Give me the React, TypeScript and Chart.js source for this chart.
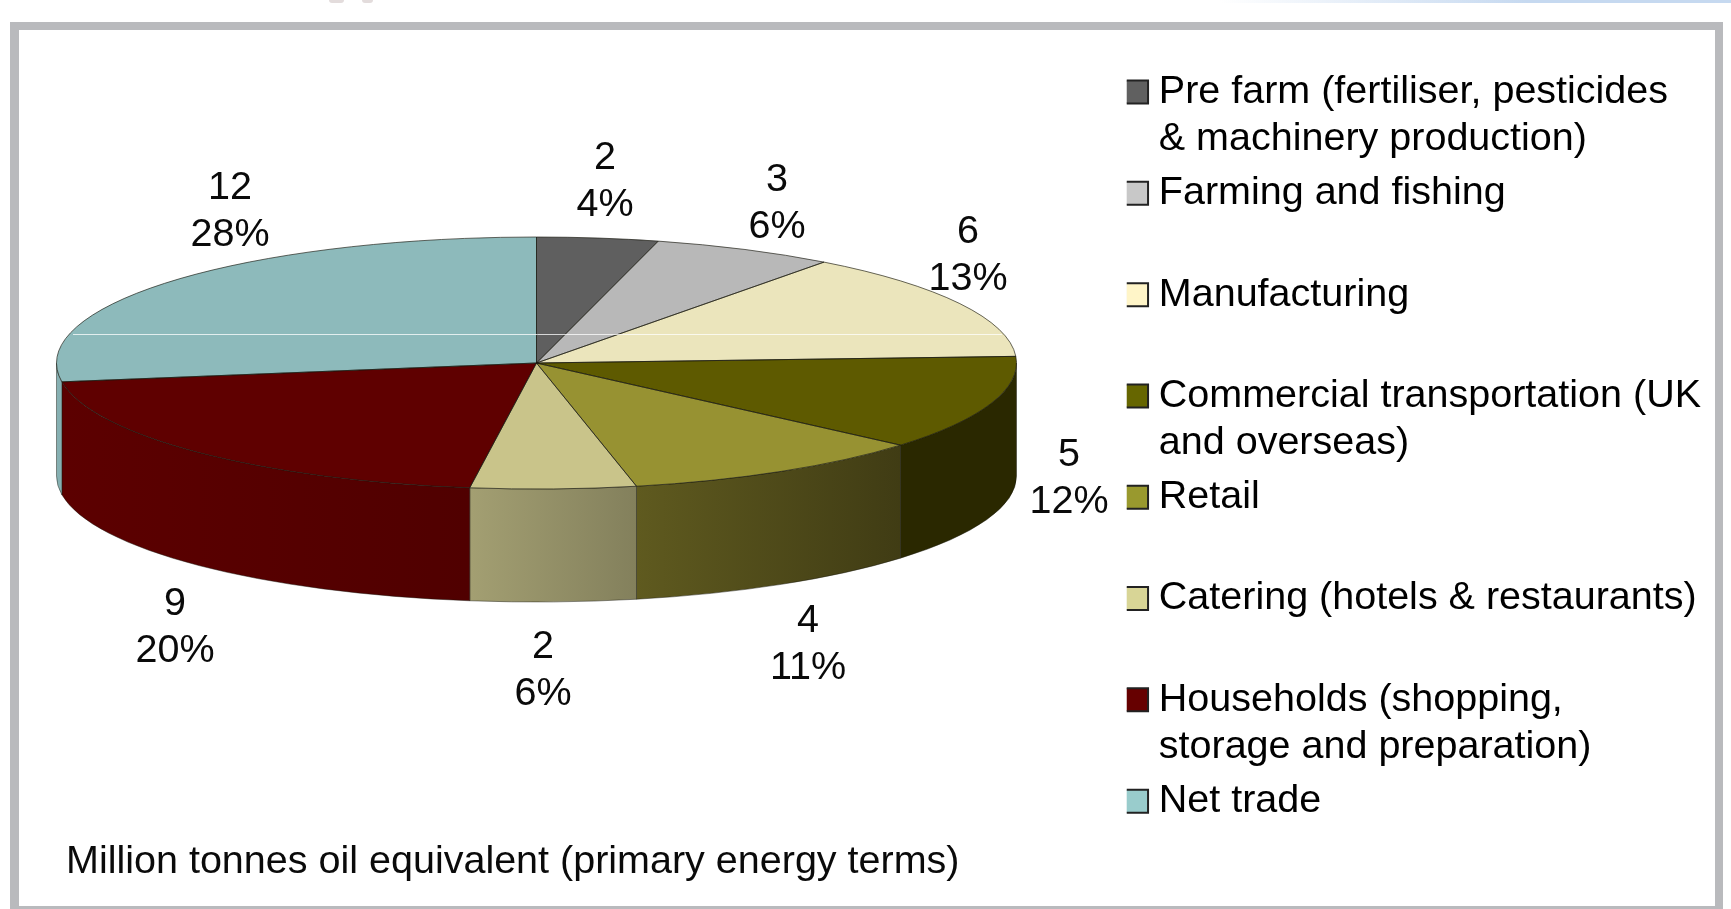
import React, { useEffect, useRef } from "react";
import { Chart, registerables } from "chart.js";

Chart.register(...registerables);

// ---- data ----
const legendLines: string[][] = [
  ["Pre farm (fertiliser, pesticides", "& machinery production)"],
  ["Farming and fishing", ""],
  ["Manufacturing", ""],
  ["Commercial transportation (UK", "and overseas)"],
  ["Retail", ""],
  ["Catering (hotels & restaurants)", ""],
  ["Households (shopping,", "storage and preparation)"],
  ["Net trade", ""],
];
const mtoeValues = [2, 3, 6, 5, 4, 2, 9, 12];
const percentLabels = [4, 6, 13, 12, 11, 6, 20, 28];
// slice sizes as actually drawn in the picture (% of the full turn)
const drawnShares = [4.08, 6.14, 13.94, 12.14, 10.36, 5.56, 20.39, 27.39];
const footnote = "Million tonnes oil equivalent (primary energy terms)";

// ---- styles ----
const topColors = ["#5f5f5f", "#b8b8b8", "#ebe5bc", "#5e5a00", "#979232", "#c9c48a", "#5f0000", "#8dbabb"];
const wallStart = ["#3a3a3a", "#6e6e6e", "#8c8870", "#2a2800", "#5f5a1f", "#a39f72", "#5c0000", "#86b0b2"];
const wallEnd = ["#3a3a3a", "#6e6e6e", "#8c8870", "#2a2800", "#403c14", "#83805c", "#500000", "#86b0b2"];
const legendColors = ["#606060", "#c8c8c8", "#fff5c8", "#666600", "#99992e", "#d8d596", "#660000", "#99cccc"];
const FONT = '"Liberation Sans", Arial, sans-serif';
const FONT_SIZE = 39.5;
const TEXT_COLOR = "#0a0a0a";

// ---- layout of the projected pie and of its labels ----
const CX = 536.5;
const CY = 363;
const RX = 480;
const RY = 126;
const DEPTH = 113;
const labelCentres = [
  [605, 158.5],
  [777, 180.5],
  [968, 232.5],
  [1069, 455.5],
  [808, 621.5],
  [543, 647.5],
  [175, 604.5],
  [230, 188.5],
];

const pie3d = {
  id: "pie3d",
  beforeDatasetsDraw(chart: any) {
    const ctx = chart.ctx as CanvasRenderingContext2D;
    const arcs = chart.getDatasetMeta(0).data as any[];
    const outline = "rgba(25,25,15,0.65)";

    // front walls: only the part of each slice on the near half of the ellipse
    arcs.forEach((arc, i) => {
      const a = Math.max(arc.startAngle, 0);
      const b = Math.min(arc.endAngle, Math.PI);
      if (b <= a) return;
      const x0 = CX + RX * Math.cos(a);
      const x1 = CX + RX * Math.cos(b);
      const grad = ctx.createLinearGradient(x1, 0, x0, 0);
      grad.addColorStop(0, wallStart[i]);
      grad.addColorStop(1, wallEnd[i]);
      ctx.beginPath();
      ctx.ellipse(CX, CY, RX, RY, 0, a, b);
      ctx.ellipse(CX, CY + DEPTH, RX, RY, 0, b, a, true);
      ctx.closePath();
      ctx.fillStyle = grad;
      ctx.fill();
      ctx.strokeStyle = "rgba(25,25,15,0.45)";
      ctx.lineWidth = 1;
      ctx.stroke();
    });

    // top face: the library's own arcs, squashed into the ellipse
    arcs.forEach((arc) => {
      const R = arc.outerRadius;
      ctx.save();
      ctx.translate(CX, CY);
      ctx.scale(RX / R, RY / R);
      ctx.translate(-arc.x, -arc.y);
      arc.draw(ctx);
      ctx.restore();
    });
    arcs.forEach((arc) => {
      ctx.beginPath();
      ctx.moveTo(CX, CY);
      ctx.ellipse(CX, CY, RX, RY, 0, arc.startAngle, arc.endAngle);
      ctx.closePath();
      ctx.strokeStyle = outline;
      ctx.lineWidth = 1;
      ctx.stroke();
    });

    // faint scan line crossing the top face in the source picture
    ctx.beginPath();
    ctx.moveTo(73, 334.5);
    ctx.lineTo(1002, 334.5);
    ctx.strokeStyle = "rgba(255,255,255,0.75)";
    ctx.lineWidth = 1;
    ctx.stroke();

    return false;
  },
  afterDraw(chart: any) {
    const ctx = chart.ctx as CanvasRenderingContext2D;
    ctx.save();
    ctx.font = `${FONT_SIZE}px ${FONT}`;
    ctx.fillStyle = TEXT_COLOR;
    ctx.textAlign = "center";
    ctx.textBaseline = "middle";
    mtoeValues.forEach((v, i) => {
      const [x, y] = labelCentres[i];
      ctx.fillText(String(v), x, y);
      ctx.fillText(`${percentLabels[i]}%`, x, y + 46.4);
    });
    ctx.restore();
  },
};

export default function App() {
  const ref = useRef<HTMLCanvasElement>(null);
  useEffect(() => {
    document.body.style.margin = "0";
    const chart = new Chart(ref.current!, {
      type: "pie",
      plugins: [pie3d],
      data: {
        labels: legendLines.map((l) => l.join(" ").trim()),
        datasets: [
          {
            data: drawnShares,
            backgroundColor: topColors,
            borderWidth: 0,
          },
        ],
      },
      options: {
        animation: false,
        responsive: false,
        layout: { padding: { left: 66, top: 65, right: 20, bottom: 23 } },
        plugins: {
          tooltip: { enabled: false },
          title: {
            display: true,
            text: footnote,
            position: "bottom",
            align: "start",
            fullSize: false,
            color: TEXT_COLOR,
            font: { family: FONT, size: FONT_SIZE, weight: "normal" },
            padding: 0,
          },
          legend: {
            display: true,
            position: "right",
            align: "start",
            labels: {
              usePointStyle: true,
              boxWidth: 5,
              boxHeight: 23,
              padding: 7.3,
              color: TEXT_COLOR,
              font: { family: FONT, size: FONT_SIZE, lineHeight: 47 / FONT_SIZE },
              generateLabels: () =>
                legendLines.map((text, i) => ({
                  text,
                  fillStyle: legendColors[i],
                  strokeStyle: "#222",
                  lineWidth: 2,
                  pointStyle: "rect",
                  hidden: false,
                  index: i,
                })),
            },
          },
        },
      } as any,
    });
    return () => chart.destroy();
  }, []);

  return (
    <div style={{ position: "fixed", left: 0, top: 0, width: 1731, height: 909, overflow: "hidden", background: "#fff" }}>
      <div style={{ position: "absolute", left: 1220, top: 0, width: 511, height: 3, background: "linear-gradient(90deg,#fff,#c6d9f0 60%)" }} />
      <div style={{ position: "absolute", left: 329, top: 0, width: 15, height: 3, borderRadius: "0 0 8px 8px", background: "#e3dcdc" }} />
      <div style={{ position: "absolute", left: 362, top: 0, width: 11, height: 3, borderRadius: "0 0 6px 6px", background: "#e3dcdc" }} />
      <div
        style={{
          position: "absolute",
          left: 10,
          top: 22,
          width: 1712.5,
          height: 900,
          boxSizing: "border-box",
          borderStyle: "solid",
          borderColor: "#b9babd",
          borderWidth: "8px 8px 16px 9px",
        }}
      />
      <canvas
        ref={ref}
        width={1731}
        height={909}
        style={{ position: "absolute", left: 0, top: 0, width: 1731, height: 909, filter: "blur(0.5px)" }}
      />
    </div>
  );
}
